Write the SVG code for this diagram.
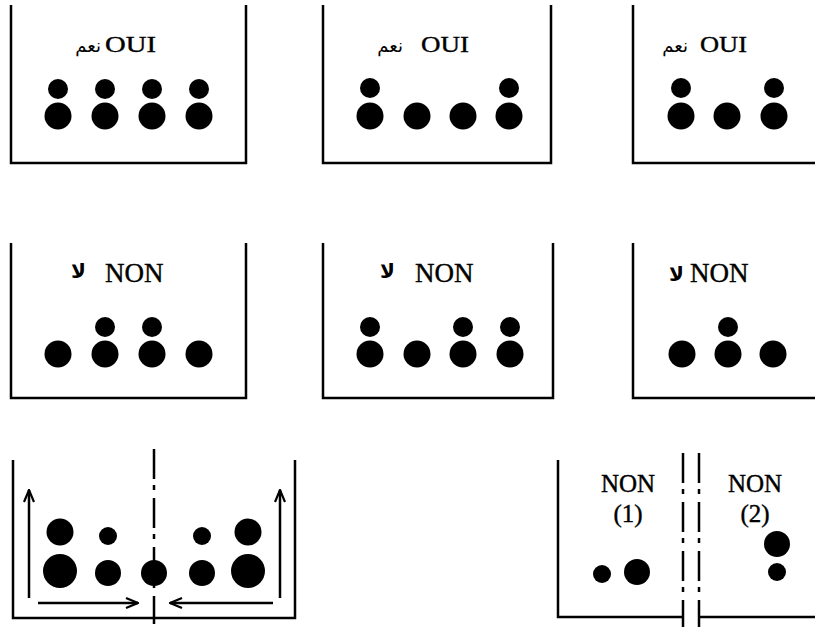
<svg xmlns="http://www.w3.org/2000/svg" width="815" height="627" viewBox="0 0 815 627">
<style>
.w{fill:none;stroke:#000;stroke-width:2.5}
.dd{fill:none;stroke:#000;stroke-width:2.5;stroke-dasharray:30 6 5 8}
.lat{font-family:"Liberation Serif","Times New Roman",serif;font-size:24px;fill:#000;stroke:#000;stroke-width:0.4}
.non{font-family:"Liberation Serif","Times New Roman",serif;font-size:27px;fill:#000;stroke:#000;stroke-width:0.4}
.n8{font-family:"Liberation Serif","Times New Roman",serif;font-size:25px;fill:#000;stroke:#000;stroke-width:0.4}
.ar{font-family:"DejaVu Sans","Noto Sans",sans-serif;font-size:18px;fill:#000}
.ar2{font-family:"DejaVu Sans","Noto Sans",sans-serif;font-size:20px;font-weight:bold;fill:#000}
circle{fill:#000}
.arr{fill:none;stroke:#000;stroke-width:2.5}
</style>
<defs>
<marker id="ah" viewBox="0 0 14 12" refX="13" refY="6" markerWidth="14" markerHeight="12" markerUnits="userSpaceOnUse" orient="auto">
<path d="M1,1 L13,6 L1,11" fill="none" stroke="#000" stroke-width="2.2"/>
</marker>
</defs>

<g id="box1">
<path class="w" d="M11,5 V163 H246 V5"/>
<text class="ar" x="101" y="52" text-anchor="end">نعم</text>
<text class="lat" x="105" y="52" textLength="51" lengthAdjust="spacingAndGlyphs">OUI</text>
<circle cx="58" cy="89" r="10"/><circle cx="105" cy="89" r="10"/><circle cx="152" cy="89" r="10"/><circle cx="199" cy="89" r="10"/>
<circle cx="58" cy="116" r="13.5"/><circle cx="105" cy="116" r="13.5"/><circle cx="152" cy="116" r="13.5"/><circle cx="199" cy="116" r="13.5"/>
</g>

<g id="box2">
<path class="w" d="M323,5 V163 H551 V5"/>
<text class="ar" x="403" y="52" text-anchor="end">نعم</text>
<text class="lat" x="421" y="52" textLength="48" lengthAdjust="spacingAndGlyphs">OUI</text>
<circle cx="370" cy="88" r="10"/><circle cx="509" cy="88" r="10"/>
<circle cx="370" cy="116" r="13.5"/><circle cx="417" cy="116" r="13.5"/><circle cx="463" cy="116" r="13.5"/><circle cx="509" cy="116" r="13.5"/>
</g>

<g id="box3">
<path class="w" d="M633,5 V163 H815"/>
<text class="ar" x="688" y="52" text-anchor="end">نعم</text>
<text class="lat" x="700" y="52" textLength="47" lengthAdjust="spacingAndGlyphs">OUI</text>
<circle cx="681" cy="88" r="10"/><circle cx="774" cy="88" r="10"/>
<circle cx="681" cy="116" r="13.5"/><circle cx="727" cy="116" r="13.5"/><circle cx="774" cy="116" r="13.5"/>
</g>

<g id="box4">
<path class="w" d="M11,243 V398 H246 V243"/>
<text class="ar2" x="86" y="278" text-anchor="end">لا</text>
<text class="non" x="105" y="282">NON</text>
<circle cx="105" cy="327" r="10"/><circle cx="152" cy="327" r="10"/>
<circle cx="58" cy="354" r="13.5"/><circle cx="105" cy="354" r="13.5"/><circle cx="152" cy="354" r="13.5"/><circle cx="199" cy="354" r="13.5"/>
</g>

<g id="box5">
<path class="w" d="M323,243 V398 H553 V243"/>
<text class="ar2" x="395" y="278" text-anchor="end">لا</text>
<text class="non" x="415" y="282">NON</text>
<circle cx="370" cy="327" r="10"/><circle cx="463" cy="327" r="10"/><circle cx="510" cy="327" r="10"/>
<circle cx="370" cy="354" r="13.5"/><circle cx="417" cy="354" r="13.5"/><circle cx="463" cy="354" r="13.5"/><circle cx="510" cy="354" r="13.5"/>
</g>

<g id="box6">
<path class="w" d="M633,243 V398 H815"/>
<text class="ar2" x="684" y="281" text-anchor="end">لا</text>
<text class="non" x="690" y="282">NON</text>
<circle cx="728" cy="327" r="10"/>
<circle cx="682" cy="354" r="13.5"/><circle cx="728" cy="354" r="13.5"/><circle cx="773" cy="354" r="13.5"/>
</g>

<g id="box7">
<path class="w" d="M13,460 V618 H295 V460"/>
<path class="dd" d="M154,449 V624"/>
<circle cx="60" cy="532" r="13.5"/><circle cx="248" cy="532" r="13.5"/>
<circle cx="108" cy="536" r="9"/><circle cx="202" cy="536" r="9"/>
<circle cx="60" cy="571" r="17"/><circle cx="248" cy="571" r="17"/>
<circle cx="108" cy="573" r="13"/><circle cx="154" cy="573" r="13"/><circle cx="202" cy="573" r="13"/>
</g>

<g id="box8">
<path class="w" d="M558,460 V617 H683"/>
<path class="w" d="M699,617 H815"/>
<path class="dd" d="M683,453 V627"/>
<path class="dd" d="M699,453 V627"/>
<text class="n8" x="628" y="492" text-anchor="middle">NON</text>
<text class="n8" x="628" y="522" text-anchor="middle">(1)</text>
<text class="n8" x="755" y="492" text-anchor="middle">NON</text>
<text class="n8" x="755" y="522" text-anchor="middle">(2)</text>
<circle cx="602" cy="574" r="9"/><circle cx="637" cy="572" r="13"/>
<circle cx="777" cy="544" r="13"/><circle cx="777" cy="572" r="9"/>
</g>

<g id="connectors">
<path class="arr" d="M29,598 V490" marker-end="url(#ah)"/>
<path class="arr" d="M280,598 V490" marker-end="url(#ah)"/>
<path class="arr" d="M38,603 H138" marker-end="url(#ah)"/>
<path class="arr" d="M273,603 H170" marker-end="url(#ah)"/>
</g>
</svg>
